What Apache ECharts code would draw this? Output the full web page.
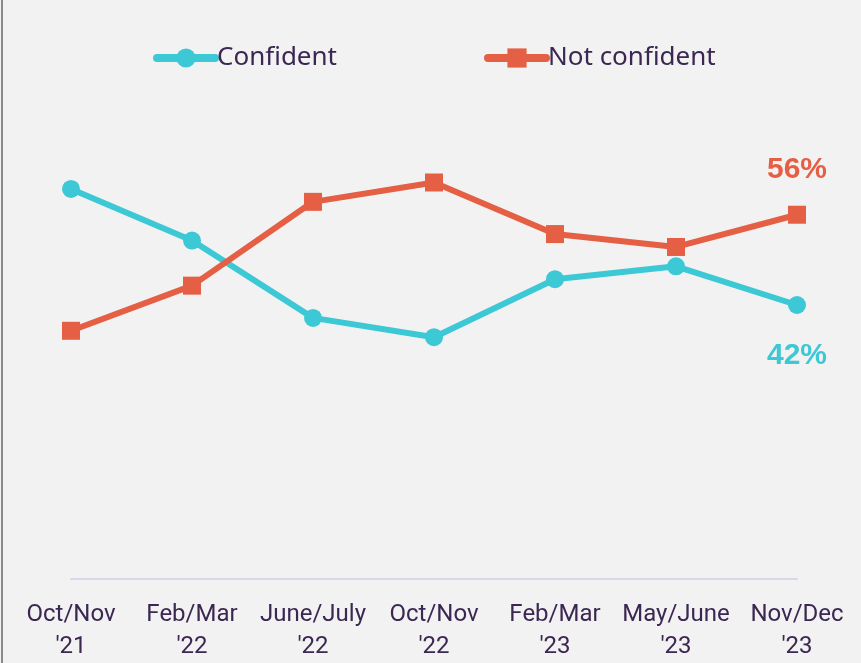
<!DOCTYPE html>
<html>
<head>
<meta charset="utf-8">
<script src="https://cdn.jsdelivr.net/npm/echarts@6/dist/echarts.min.js"></script>
<style>
  html, body { margin: 0; padding: 0; background: #f2f2f2; }
  #chart { width: 861px; height: 663px; }
</style>
</head>
<body>
<div id="chart"></div>
<script>
var categories = ["Oct/Nov\n'21", "Feb/Mar\n'22", "June/July\n'22", "Oct/Nov\n'22", "Feb/Mar\n'23", "May/June\n'23", "Nov/Dec\n'23"];
var confident = [60, 52, 40, 37, 46, 48, 42];
var notConfident = [38, 45, 58, 61, 53, 51, 56];

var cyan = '#3cc8d5';
var orange = '#e55f45';
var textColor = '#3b2752';

var myChart = echarts.init(document.getElementById('chart'));

// only the last point gets a percentage label
function lastLabel(pos, dist, color) {
	return {
		show: true,
		position: pos,
		distance: dist,
		color: color,
		fontFamily: 'Liberation Sans',
		fontWeight: 'bold',
		fontSize: 30,
		formatter: function (p) {
			return p.dataIndex === categories.length - 1 ? p.value + '%' : '';
		}
	};
}

function legendAt(name, left) {
	return {
		data: [name],
		left: left,
		top: 45,
		padding: 0,
		itemWidth: 58,
		itemHeight: 24,
		itemGap: 3,
		lineStyle: { width: 8, cap: 'round' },
		textStyle: { color: textColor, fontSize: 26, fontFamily: 'Noto Sans', padding: [0, 0, 0, -3] }
	};
}

var option = {
	backgroundColor: '#f2f2f2',
	animation: false,
	graphic: [{
		type: 'line',
		shape: { x1: 2, y1: 0, x2: 2, y2: 663 },
		style: { stroke: '#8a8a8a', lineWidth: 2 }
	}],
	legend: [legendAt('Confident', 153), legendAt('Not confident', 484)],
	grid: {
		left: 71,
		right: 64,
		top: 60,
		bottom: 81,
		containLabel: false
	},
	xAxis: {
		type: 'category',
		data: categories,
		boundaryGap: false,
		axisLine: { onZero: false, lineStyle: { color: '#ddd6ea', width: 2 } },
		axisTick: { show: false },
		axisLabel: {
			color: textColor,
			fontSize: 24,
			fontFamily: 'Roboto',
			lineHeight: 32,
			margin: 20,
			interval: 0
		}
	},
	yAxis: {
		type: 'value',
		min: -0.5,
		max: 80,
		show: false,
		splitLine: { show: false }
	},
	series: [{
		name: 'Confident',
		type: 'line',
		data: confident,
		symbol: 'circle',
		symbolSize: 18,
		lineStyle: { color: cyan, width: 6 },
		itemStyle: { color: cyan },
		label: lastLabel('bottom', 27, cyan)
	}, {
		name: 'Not confident',
		type: 'line',
		data: notConfident,
		symbol: 'rect',
		symbolSize: 18,
		lineStyle: { color: orange, width: 6 },
		itemStyle: { color: orange },
		label: lastLabel('top', 21, orange)
	}]
};
myChart.setOption(option);
</script>
</body>
</html>
